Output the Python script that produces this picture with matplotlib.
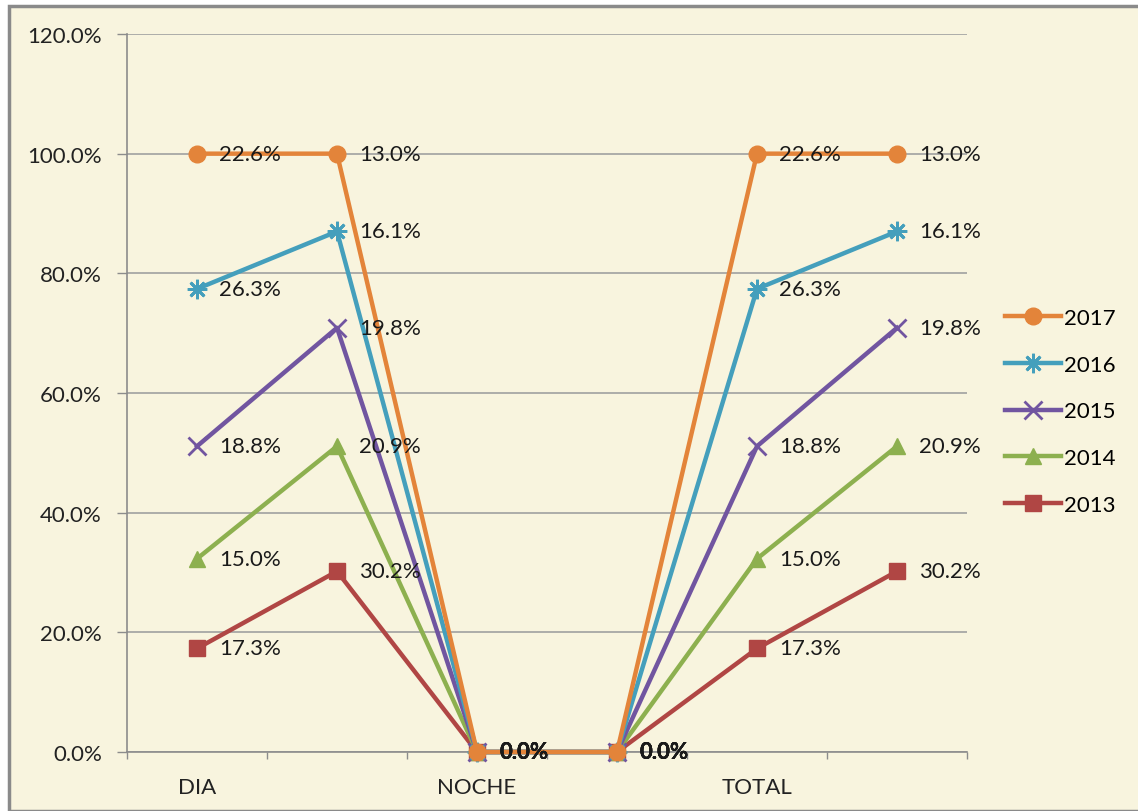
import matplotlib.pyplot as plt
from matplotlib.patches import Rectangle
import numpy as np

categories = ["DIA", "", "NOCHE", "", "TOTAL", ""]
years = ["2013", "2014", "2015", "2016", "2017"]
# valores por serie (%), apilados al 100%
v2013 = [17.3, 30.2, 0.0, 0.0, 17.3, 30.2]
v2014 = [15.0, 20.9, 0.0, 0.0, 15.0, 20.9]
v2015 = [18.8, 19.8, 0.0, 0.0, 18.8, 19.8]
v2016 = [26.3, 16.1, 0.0, 0.0, 26.3, 16.1]
v2017 = [22.6, 13.0, 0.0, 0.0, 22.6, 13.0]
y_ticks = [0, 20, 40, 60, 80, 100, 120]

series = [v2013, v2014, v2015, v2016, v2017]
colors = ["#B04644", "#8DB04F", "#7155A0", "#449FBC", "#E3843A"]
markers = ["s", "^", "x", (8, 2, 0), "o"]
msizes = [12, 12, 13, 14, 12]

bg = "#F8F4DE"
fs = 16
plt.rcParams['font.family'] = ['Lato', 'DejaVu Sans']

fig = plt.figure(figsize=(11.38, 8.12), dpi=100)
fig.patch.set_facecolor("white")
fig.patches.append(Rectangle((9 / 1138, 0), 1, 1 - 7 / 812, transform=fig.transFigure,
                             facecolor=bg, edgecolor="#8A8A8A", linewidth=2.5, zorder=-10))

ax = fig.add_axes([127 / 1138, (812 - 753) / 812, 840 / 1138, 718 / 812])
ax.set_facecolor(bg)

x = np.arange(len(categories))
totals = np.zeros(len(categories))
lines = []
for yr, vals, c, m, ms in zip(years, series, colors, markers, msizes):
    vals = np.array(vals)
    totals = totals + vals
    ln, = ax.plot(x, totals, color=c, linewidth=3.2, marker=m, markersize=ms,
                  markeredgewidth=2 if m in ("x", (8, 2, 0)) else 1,
                  markeredgecolor=c, label=yr, zorder=3, clip_on=False)
    lines.append(ln)
    for xi, yi, v in zip(x, totals, vals):
        ax.annotate(f"{v:.1f}%", (xi, yi), xytext=(16, 0), textcoords="offset points",
                    ha="left", va="center", fontsize=fs, color="#1A1A1A",
                    fontweight="bold" if v == 0 else "normal", zorder=4)

ax.set_xlim(-0.5, 5.5)
ax.set_ylim(0, 120)
ax.set_yticks(y_ticks)
ax.set_yticklabels([f"{t:.1f}%" for t in y_ticks], fontsize=fs, color="#222222")
ax.set_xticks(np.arange(-0.5, 6, 1.0))
ax.set_xticklabels([])
ax.set_xticks(x, minor=True)
ax.set_xticklabels(categories, minor=True, fontsize=fs, color="#222222")
ax.tick_params(axis="x", which="minor", length=0, pad=18)
ax.tick_params(axis="x", which="major", length=5, color="#8C8C8C", width=1)
ax.tick_params(axis="y", length=7, color="#8C8C8C", width=1, pad=11)

ax.grid(axis="y", color="#A0A0A0", linewidth=1.2, zorder=0)
ax.set_axisbelow(True)
for s in ["top", "right"]:
    ax.spines[s].set_visible(False)
ax.spines["left"].set_color("#8C8C8C")
ax.spines["bottom"].set_color("#8C8C8C")
ax.spines["left"].set_linewidth(1.2)
ax.spines["bottom"].set_linewidth(1.2)

leg = fig.legend(lines[::-1], years[::-1], loc="upper left",
                 bbox_to_anchor=(1005 / 1138, 1 - 309 / 812), frameon=False,
                 fontsize=fs, labelspacing=1.2, handlelength=2.5, handletextpad=0.15,
                 borderpad=0, borderaxespad=0)

fig.savefig("out.png", dpi=100, facecolor=fig.get_facecolor())
